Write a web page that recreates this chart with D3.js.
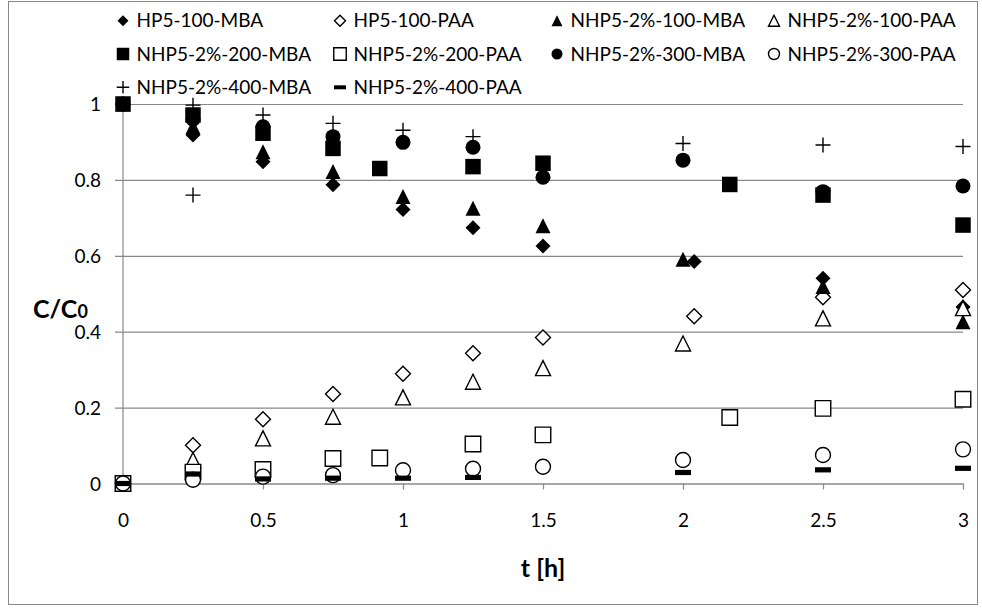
<!DOCTYPE html>
<html>
<head>
<meta charset="utf-8">
<script src="https://cdn.jsdelivr.net/npm/d3@7"></script>
<style>
body { margin: 0; background: #fff; }
#chart text { font-family: Lato, "Open Sans", sans-serif; fill: #000; }
</style>
</head>
<body>
<svg id="chart" width="982" height="610"></svg>
<script>
var seriesNames = ["HP5-100-MBA", "HP5-100-PAA", "NHP5-2%-100-MBA", "NHP5-2%-100-PAA",
  "NHP5-2%-200-MBA", "NHP5-2%-200-PAA", "NHP5-2%-300-MBA", "NHP5-2%-300-PAA",
  "NHP5-2%-400-MBA", "NHP5-2%-400-PAA"];

// sampling times [h]
var timesStd = [0, 0.25, 0.5, 0.75, 1, 1.25, 1.5, 2, 2.5, 3];
var timesHP = [0, 0.25, 0.5, 0.75, 1, 1.25, 1.5, 2.04, 2.5, 3];
var times200 = [0, 0.25, 0.5, 0.75, 0.917, 1.25, 1.5, 2.167, 2.5, 3];
var times400MBA = [0, 0.25, 0.25, 0.5, 0.75, 1, 1.25, 2, 2.5, 3];
var times400PAA = [0, 0.25, 0.5, 0.75, 1, 1.25, 2, 2.5, 3];

// C/C0 values
var hp100MBA = [1, 0.918, 0.848, 0.787, 0.722, 0.674, 0.626, 0.585, 0.541, 0.465];
var hp100PAA = [0, 0.101, 0.169, 0.236, 0.289, 0.343, 0.385, 0.441, 0.491, 0.510];
var nhp100MBA = [1, 0.94, 0.874, 0.822, 0.756, 0.725, 0.679, 0.591, 0.519, 0.426];
var nhp100PAA = [0, 0.062, 0.119, 0.176, 0.227, 0.268, 0.304, 0.369, 0.435, 0.462];
var nhp200MBA = [1, 0.971, 0.923, 0.883, 0.830, 0.835, 0.844, 0.788, 0.760, 0.681];
var nhp200PAA = [0, 0.030, 0.037, 0.066, 0.067, 0.104, 0.128, 0.174, 0.198, 0.222];
var nhp300MBA = [1, 0.96, 0.940, 0.914, 0.899, 0.886, 0.807, 0.852, 0.769, 0.784];
var nhp300PAA = [0, 0.010, 0.018, 0.022, 0.035, 0.039, 0.044, 0.062, 0.075, 0.090];
var nhp400MBA = [1, 0.997, 0.760, 0.971, 0.949, 0.931, 0.914, 0.896, 0.892, 0.888];
var nhp400PAA = [0, 0.025, 0.012, 0.014, 0.014, 0.016, 0.029, 0.036, 0.040];

var xTicks = [0, 0.5, 1, 1.5, 2, 2.5, 3];
var yTicks = [0, 0.2, 0.4, 0.6, 0.8, 1];

var series = [
  {name: seriesNames[0], t: timesHP, v: hp100MBA, shape: "diamond", filled: true},
  {name: seriesNames[1], t: timesHP, v: hp100PAA, shape: "diamond", filled: false},
  {name: seriesNames[2], t: timesStd, v: nhp100MBA, shape: "triangle", filled: true},
  {name: seriesNames[3], t: timesStd, v: nhp100PAA, shape: "triangle", filled: false},
  {name: seriesNames[4], t: times200, v: nhp200MBA, shape: "square", filled: true},
  {name: seriesNames[5], t: times200, v: nhp200PAA, shape: "square", filled: false},
  {name: seriesNames[6], t: timesStd, v: nhp300MBA, shape: "circle", filled: true},
  {name: seriesNames[7], t: timesStd, v: nhp300PAA, shape: "circle", filled: false},
  {name: seriesNames[8], t: times400MBA, v: nhp400MBA, shape: "plus", filled: false},
  {name: seriesNames[9], t: times400PAA, v: nhp400PAA, shape: "dash", filled: true}
];

var svg = d3.select("#chart");
var gridColor = "#898989";

var x = d3.scaleLinear().domain([0, 3]).range([123, 963]);
var y = d3.scaleLinear().domain([0, 1]).range([483.5, 104]);

// chart border
svg.append("rect")
  .attr("x", 8.5).attr("y", 1.5).attr("width", 969).attr("height", 603)
  .attr("fill", "none").attr("stroke", gridColor).attr("stroke-width", 1);

function markerPath(shape, s) {
  var h = s / 2;
  if (shape == "diamond")
    return "M0," + (-h) + "L" + h + ",0L0," + h + "L" + (-h) + ",0Z";
  if (shape == "triangle")
    return "M0," + (-h) + "L" + h + "," + h + "L" + (-h) + "," + h + "Z";
  if (shape == "square")
    return "M" + (-h) + "," + (-h) + "H" + h + "V" + h + "H" + (-h) + "Z";
  if (shape == "circle")
    return d3.symbol(d3.symbolCircle, Math.PI * h * h)();
  if (shape == "plus")
    return "M" + (-h) + ",0H" + h + "M0," + (-h) + "V" + h;
  if (shape == "dash")
    return "M" + (-h) + ",-2.6H" + h + "V2.6H" + (-h) + "Z";
}

function styleMarker(sel, d) {
  if (d.shape == "plus")
    sel.attr("fill", "none").attr("stroke", "#000").attr("stroke-width", 1.4);
  else if (d.filled)
    sel.attr("fill", "#000").attr("stroke", "none");
  else
    sel.attr("fill", "#fff").attr("stroke", "#000").attr("stroke-width", 1.4);
}

var markerSize = {diamond: 15, triangle: 15, square: 15.5, circle: 15, plus: 15, dash: 16};

// y axis with gridlines
var yAxis = d3.axisLeft(y).tickValues(yTicks).tickSize(-840).tickSizeOuter(0).tickPadding(0)
  .tickFormat(d3.format("~g"));
var gy = svg.append("g").attr("transform", "translate(123,0)").call(yAxis);
gy.select(".domain").remove();
gy.selectAll(".tick line").attr("x1", -8).attr("stroke", gridColor).attr("stroke-width", 1.2);
gy.selectAll(".tick text").attr("x", -22).attr("dy", "0.35em")
  .style("font-size", "19px").attr("fill", "#000");
svg.append("line").attr("x1", 123).attr("x2", 123).attr("y1", 104).attr("y2", 483.5)
  .attr("stroke", gridColor).attr("stroke-width", 1.2);

// x axis
var xAxis = d3.axisBottom(x).tickValues(xTicks).tickSize(6).tickSizeOuter(0).tickPadding(24)
  .tickFormat(d3.format("~g"));
var gx = svg.append("g").attr("transform", "translate(0,483.5)").call(xAxis);
gx.select(".domain").attr("stroke", gridColor).attr("stroke-width", 1.2);
gx.selectAll(".tick line").attr("stroke", gridColor).attr("stroke-width", 1.2);
gx.selectAll(".tick text").style("font-size", "19px").attr("fill", "#000");

// axis titles
svg.append("text").attr("x", 543).attr("y", 577).attr("text-anchor", "middle")
  .style("font-size", "25px").style("font-weight", "bold").text("t [h]");
var yt = svg.append("text").attr("x", 33).attr("y", 318)
  .style("font-size", "25px").style("font-weight", "bold");
yt.append("tspan").text("C/C");
yt.append("tspan").style("font-size", "18px").text("0");

// points
series.forEach(function(s) {
  var pts = s.t.map(function(t, i) { return {t: t, v: s.v[i]}; });
  svg.append("g").selectAll("path").data(pts).enter().append("path")
    .attr("transform", function(p) { return "translate(" + x(p.t) + "," + y(p.v) + ")"; })
    .attr("d", markerPath(s.shape, markerSize[s.shape]))
    .call(styleMarker, s);
});

// legend
var legendCols = [123, 340, 557, 774];
var legendRows = [20.7, 54, 87.3];
series.forEach(function(s, i) {
  var lx = legendCols[i % 4], ly = legendRows[Math.floor(i / 4)];
  var size = s.shape == "dash" ? 12 : (s.shape == "square" || s.shape == "plus" ? 12.5 : 11);
  svg.append("path").attr("transform", "translate(" + lx + "," + ly + ")")
    .attr("d", s.shape == "dash" ? "M-6,-2H6V2H-6Z" : markerPath(s.shape, size))
    .call(styleMarker, s);
  svg.append("text").attr("x", lx + 13.5).attr("y", ly).attr("dy", "0.35em")
    .style("font-size", "19px").text(s.name);
});
</script>
</body>
</html>
